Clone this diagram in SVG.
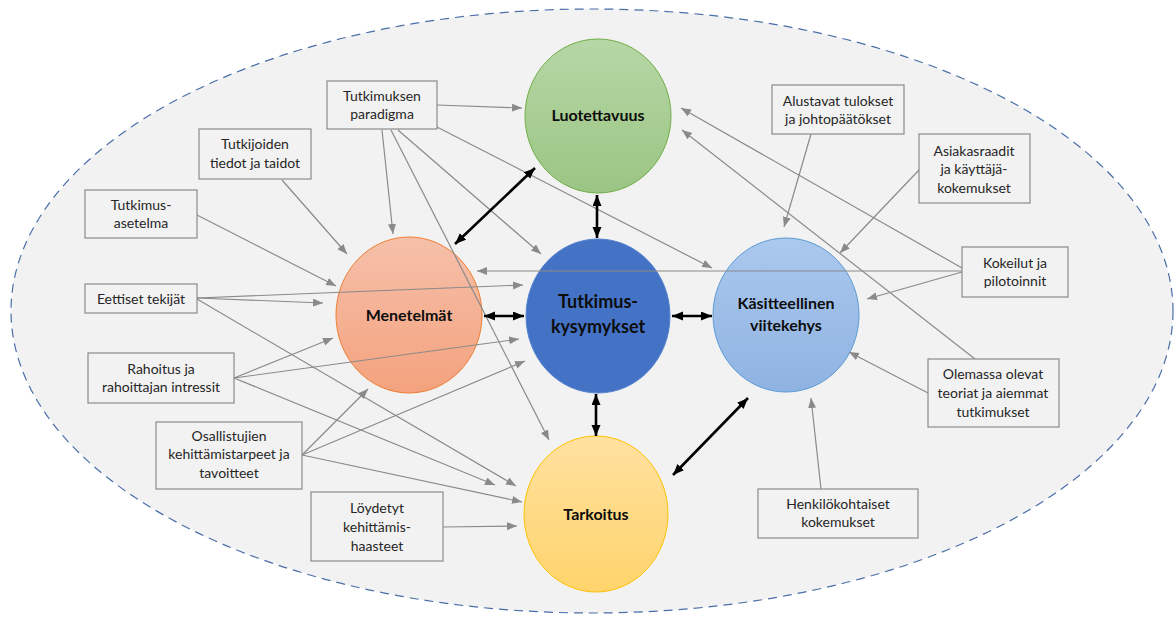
<svg xmlns="http://www.w3.org/2000/svg" width="1174" height="619" viewBox="0 0 1174 619">
<style>
.box{fill:#f2f2f2;stroke:#8a8a8a;stroke-width:1.2}
.bt{font-family:Lato,"Liberation Sans",sans-serif;font-size:14px;fill:#262626;text-anchor:middle}
.ct{font-family:Lato,"Liberation Sans",sans-serif;font-weight:bold;font-size:16px;fill:#0d0d0d;text-anchor:middle}
.g{stroke:#8a8a8a;stroke-width:1.2;fill:none;marker-end:url(#ga)}
.k{stroke:#000;stroke-width:2.6;fill:none;marker-start:url(#ka);marker-end:url(#ka)}
</style>
<defs>
<marker id="ga" markerUnits="userSpaceOnUse" markerWidth="11" markerHeight="9" refX="10" refY="4" orient="auto"><path d="M0,0 L10,4 L0,8 z" fill="#8a8a8a"/></marker>
<marker id="ka" markerUnits="userSpaceOnUse" markerWidth="12" markerHeight="10" refX="11" refY="4.5" orient="auto-start-reverse"><path d="M0,0 L11,4.5 L0,9 z" fill="#000"/></marker>
<linearGradient id="gGreen" x1="0" y1="0" x2="0" y2="1"><stop offset="0" stop-color="#b6d7a6"/><stop offset="1" stop-color="#9bc584"/></linearGradient>
<linearGradient id="gOrange" x1="0" y1="0" x2="0" y2="1"><stop offset="0" stop-color="#f6c0aa"/><stop offset="1" stop-color="#f4a27e"/></linearGradient>
<linearGradient id="gBlue" x1="0" y1="0" x2="0" y2="1"><stop offset="0" stop-color="#abc8ed"/><stop offset="1" stop-color="#8fb3e2"/></linearGradient>
<linearGradient id="gYellow" x1="0" y1="0" x2="0" y2="1"><stop offset="0" stop-color="#ffe1a0"/><stop offset="1" stop-color="#ffd46c"/></linearGradient>
</defs>
<rect width="1174" height="619" fill="#ffffff"/>
<ellipse cx="592" cy="311" rx="581" ry="302" fill="#f2f2f2" stroke="#4a6ea8" stroke-width="1.2" stroke-dasharray="9,6"/>

<g id="luotettavuus"><ellipse cx="598" cy="116" rx="73" ry="77" fill="url(#gGreen)" stroke="#70ad47" stroke-width="1"/><text class="ct" x="598" y="121">Luotettavuus</text></g>
<g id="menetelmat"><ellipse cx="409" cy="315" rx="73" ry="78" fill="url(#gOrange)" stroke="#ed7d31" stroke-width="1"/><text class="ct" x="409" y="321">Menetelmät</text></g>
<g id="tutkimuskysymykset"><ellipse cx="598" cy="316" rx="72" ry="77" fill="#4472c4" stroke="#5582d0" stroke-width="1"/><text class="ct" style="font-size:18px" x="598" y="308">Tutkimus-</text><text class="ct" style="font-size:18px" x="598" y="333">kysymykset</text></g>
<g id="kasitteellinen"><ellipse cx="786" cy="315" rx="73" ry="77" fill="url(#gBlue)" stroke="#5b9bd5" stroke-width="1"/><text class="ct" x="786" y="309">Käsitteellinen</text><text class="ct" x="786" y="331">viitekehys</text></g>
<g id="tarkoitus"><ellipse cx="596" cy="514" rx="72" ry="78" fill="url(#gYellow)" stroke="#ffc000" stroke-width="1"/><text class="ct" x="596" y="520">Tarkoitus</text></g>

<g id="connectors">
<line class="g" x1="437" y1="105" x2="522" y2="108"/>
<line class="g" x1="382" y1="130" x2="393" y2="234"/>
<line class="g" x1="391" y1="130" x2="549" y2="440"/>
<line class="g" x1="398" y1="130" x2="541" y2="254"/>
<line class="g" x1="437" y1="127" x2="712" y2="268"/>
<line class="g" x1="282" y1="180" x2="347" y2="254"/>
<line class="g" x1="197" y1="215" x2="336" y2="286"/>
<line class="g" x1="197" y1="298" x2="323" y2="303"/>
<line class="g" x1="197" y1="298" x2="523" y2="285"/>
<line class="g" x1="197" y1="299" x2="516" y2="486"/>
<line class="g" x1="234" y1="378" x2="333" y2="338"/>
<line class="g" x1="234" y1="378" x2="519" y2="339"/>
<line class="g" x1="234" y1="378" x2="495" y2="485"/>
<line class="g" x1="302" y1="455" x2="368" y2="389"/>
<line class="g" x1="302" y1="455" x2="525" y2="361"/>
<line class="g" x1="302" y1="455" x2="522" y2="502"/>
<line class="g" x1="443" y1="527" x2="517" y2="526"/>
<line class="g" x1="811" y1="134" x2="784" y2="227"/>
<line class="g" x1="919" y1="170" x2="840" y2="253"/>
<line class="g" x1="962" y1="271" x2="477" y2="271"/>
<line class="g" x1="962" y1="272" x2="867" y2="299"/>
<line class="g" x1="962" y1="268" x2="681" y2="108"/>
<line class="g" x1="975" y1="359" x2="682" y2="130"/>
<line class="g" x1="928" y1="393" x2="849" y2="352"/>
<line class="g" x1="821" y1="489" x2="811" y2="398"/>
<line class="k" x1="484" y1="316" x2="524" y2="316"/>
<line class="k" x1="672" y1="316" x2="712" y2="316"/>
<line class="k" x1="597" y1="195" x2="597" y2="238"/>
<line class="k" x1="596" y1="394" x2="596" y2="436"/>
<line class="k" x1="455" y1="244" x2="535" y2="168"/>
<line class="k" x1="673" y1="475" x2="748" y2="398"/>
</g>

<g id="paradigma"><rect class="box" x="327" y="81" width="110" height="48"/><text class="bt" x="382" y="101">Tutkimuksen</text><text class="bt" x="382" y="119">paradigma</text></g>
<g id="tutkijoiden"><rect class="box" x="199" y="129" width="112" height="50"/><text class="bt" x="255" y="149">Tutkijoiden</text><text class="bt" x="255" y="168">tiedot ja taidot</text></g>
<g id="asetelma"><rect class="box" x="85" y="190" width="112" height="48"/><text class="bt" x="141" y="210">Tutkimus-</text><text class="bt" x="141" y="228">asetelma</text></g>
<g id="eettiset"><rect class="box" x="85" y="284" width="112" height="29"/><text class="bt" x="141" y="304">Eettiset tekijät</text></g>
<g id="rahoitus"><rect class="box" x="88" y="353" width="146" height="50"/><text class="bt" x="161" y="374">Rahoitus ja</text><text class="bt" x="161" y="392">rahoittajan intressit</text></g>
<g id="osallistujien"><rect class="box" x="156" y="422" width="146" height="67"/><text class="bt" x="229" y="441">Osallistujien</text><text class="bt" x="229" y="459">kehittämistarpeet ja</text><text class="bt" x="229" y="478">tavoitteet</text></g>
<g id="loydetyt"><rect class="box" x="311" y="492" width="132" height="69"/><text class="bt" x="377" y="513">Löydetyt</text><text class="bt" x="377" y="532">kehittämis-</text><text class="bt" x="377" y="551">haasteet</text></g>
<g id="alustavat"><rect class="box" x="772" y="85" width="132" height="49"/><text class="bt" x="838" y="106">Alustavat tulokset</text><text class="bt" x="838" y="124">ja johtopäätökset</text></g>
<g id="asiakasraadit"><rect class="box" x="919" y="134" width="111" height="69"/><text class="bt" x="974" y="156">Asiakasraadit</text><text class="bt" x="974" y="174">ja käyttäjä-</text><text class="bt" x="974" y="193">kokemukset</text></g>
<g id="kokeilut"><rect class="box" x="962" y="247" width="106" height="50"/><text class="bt" x="1015" y="268">Kokeilut ja</text><text class="bt" x="1015" y="286">pilotoinnit</text></g>
<g id="olemassa"><rect class="box" x="928" y="359" width="131" height="68"/><text class="bt" x="993" y="379">Olemassa olevat</text><text class="bt" x="993" y="398">teoriat ja aiemmat</text><text class="bt" x="993" y="417">tutkimukset</text></g>
<g id="henkilokohtaiset"><rect class="box" x="758" y="489" width="160" height="49"/><text class="bt" x="838" y="509">Henkilökohtaiset</text><text class="bt" x="838" y="527">kokemukset</text></g>
</svg>
